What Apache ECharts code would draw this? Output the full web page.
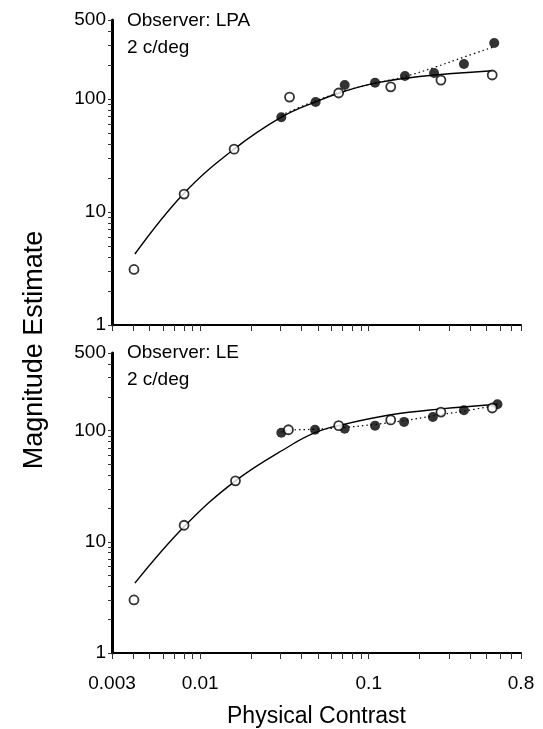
<!DOCTYPE html>
<html>
<head>
<meta charset="utf-8">
<script src="https://cdn.jsdelivr.net/npm/echarts@6/dist/echarts.min.js"></script>
<style>html,body{margin:0;padding:0;background:#fff}#c{width:543px;height:729px}</style>
</head>
<body>
<div id="c"></div>
<script>
// ---- data (contrast, magnitude estimate) ----
const lpaOpenC = [0.00405, 0.00803, 0.0159, 0.0339, 0.0663, 0.135, 0.268, 0.54];
const lpaOpenV = [3.1, 14.4, 36, 104, 113, 128, 147, 163];
const lpaFilledC = [0.0303, 0.0484, 0.072, 0.109, 0.164, 0.244, 0.367, 0.555];
const lpaFilledV = [69, 94, 133, 139, 160, 170, 204, 313];
const lpaSolidC = [0.0041, 0.008, 0.0159, 0.0303, 0.048, 0.072, 0.109, 0.2, 0.54];
const lpaSolidV = [4.25, 14.6, 36, 69, 94, 117, 138, 158, 178];
const lpaDotC = [0.0303, 0.048, 0.072, 0.109, 0.164, 0.244, 0.367, 0.555];
const lpaDotV = [72, 96, 118, 138, 158, 190, 235, 290];

const leOpenC = [0.00405, 0.00803, 0.0162, 0.0334, 0.0663, 0.135, 0.268, 0.54];
const leOpenV = [3.0, 14.1, 35.4, 102, 111, 125, 147, 160];
const leFilledC = [0.0303, 0.048, 0.072, 0.109, 0.162, 0.24, 0.367, 0.58];
const leFilledV = [96, 102, 104, 111, 120, 133, 153, 173];
const leSolidC = [0.0041, 0.008, 0.0162, 0.0345, 0.048, 0.066, 0.135, 0.268, 0.58];
const leSolidV = [4.25, 13.6, 35.4, 74, 96, 111, 139, 157, 173];
const leDotC = [0.0303, 0.0334, 0.048, 0.072, 0.109, 0.162, 0.24, 0.367, 0.58];
const leDotV = [97, 101, 103, 107, 114, 123, 136, 150, 170];

const xTickLabels = [0.003, 0.01, 0.1, 0.8];
const xTicks = [0.003,0.004,0.005,0.006,0.007,0.008,0.009,0.01,0.02,0.03,0.04,0.05,0.06,0.07,0.08,0.09,0.1,0.2,0.3,0.4,0.5,0.6,0.7,0.8];
const yTickLabels = [1, 10, 100, 500];
const yTicks = [1,2,3,4,5,6,7,8,9,10,20,30,40,50,60,70,80,90,100,200,300,400,500];

const zip = (a, b) => a.map((v, i) => [v, b[i]]);
const fmt = v => String(Number(Number(v).toPrecision(3)));
const FONT = 'Liberation Sans';

function xAxis(gi, showLabels) {
  return {
    type: 'log', logBase: 10, gridIndex: gi, min: 0.003, max: 0.8,
    axisLine: {show: true, lineStyle: {color: '#000', width: 2}},
    axisTick: {show: true, inside: false, length: 6, customValues: xTicks, lineStyle: {color: '#333', width: 1}},
    minorTick: {show: false},
    splitLine: {show: false},
    axisLabel: {show: showLabels, customValues: xTickLabels, formatter: fmt, color: '#000', fontFamily: FONT, fontSize: 19, margin: 21},
    name: showLabels ? 'Physical Contrast' : '',
    nameLocation: 'middle', nameGap: 52,
    nameTextStyle: {color: '#000', fontFamily: FONT, fontSize: 23}
  };
}
function yAxis(gi) {
  return {
    type: 'log', logBase: 10, gridIndex: gi, min: 1, max: 500,
    axisLine: {show: true, lineStyle: {color: '#000', width: 3}},
    axisTick: {show: true, inside: false, length: 4, customValues: yTicks, lineStyle: {color: '#333', width: 1}},
    splitLine: {show: false},
    axisLabel: {show: true, customValues: yTickLabels, formatter: fmt, color: '#000', fontFamily: FONT, fontSize: 19, margin: 6}
  };
}
function panelSeries(gi, solidC, solidV, dotC, dotV, openC, openV, filledC, filledV) {
  return [
    {type: 'line', xAxisIndex: gi, yAxisIndex: gi, data: zip(solidC, solidV), smooth: 0.4, symbol: 'none',
     lineStyle: {color: '#000', width: 1.4}, z: 2},
    {type: 'line', xAxisIndex: gi, yAxisIndex: gi, data: zip(dotC, dotV), smooth: 0.4, symbol: 'none',
     lineStyle: {color: '#000', width: 1.2, type: [1.5, 3]}, z: 2},
    {type: 'scatter', xAxisIndex: gi, yAxisIndex: gi, data: zip(filledC, filledV), symbol: 'circle', symbolSize: 10,
     itemStyle: {color: '#000'}, z: 3},
    {type: 'scatter', xAxisIndex: gi, yAxisIndex: gi, data: zip(openC, openV), symbol: 'circle', symbolSize: 9,
     itemStyle: {color: '#fff', borderColor: '#000', borderWidth: 1.8}, z: 4}
  ];
}

const chart = echarts.init(document.getElementById('c'), null, {renderer: 'canvas'});
chart.setOption({
  animation: false,
  backgroundColor: '#fff',
  grid: [
    {left: 112, top: 20, width: 409, height: 305},
    {left: 112, top: 353, width: 409, height: 304}
  ],
  xAxis: [xAxis(0, false), xAxis(1, true)],
  yAxis: [yAxis(0), yAxis(1)],
  title: [
    {text: 'Observer: LPA\n2 c/deg', left: 122, top: 2, textStyle: {color: '#000', fontFamily: FONT, fontSize: 19, fontWeight: 'normal', lineHeight: 27}},
    {text: 'Observer: LE\n2 c/deg', left: 122, top: 334, textStyle: {color: '#000', fontFamily: FONT, fontSize: 19, fontWeight: 'normal', lineHeight: 27}}
  ],
  graphic: [
    {type: 'text', x: 35, y: 350, rotation: Math.PI / 2,
     style: {text: 'Magnitude Estimate', fill: '#000', font: '27px "Liberation Sans"', textAlign: 'center', textVerticalAlign: 'middle'}}
  ],
  series: [].concat(
    panelSeries(0, lpaSolidC, lpaSolidV, lpaDotC, lpaDotV, lpaOpenC, lpaOpenV, lpaFilledC, lpaFilledV),
    panelSeries(1, leSolidC, leSolidV, leDotC, leDotV, leOpenC, leOpenV, leFilledC, leFilledV)
  )
});
</script>
</body>
</html>
